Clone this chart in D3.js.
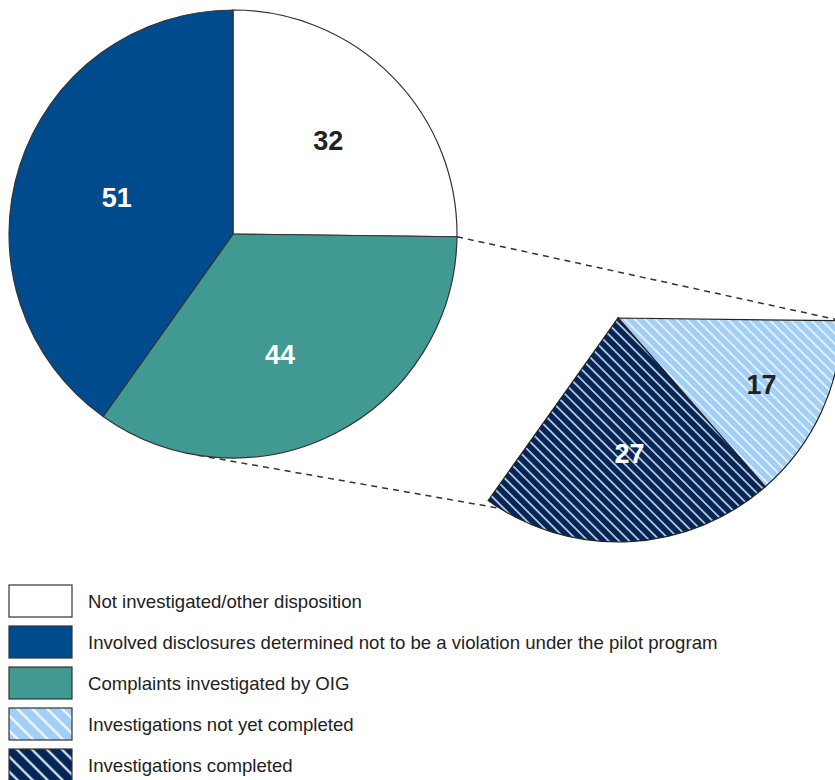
<!DOCTYPE html>
<html>
<head>
<meta charset="utf-8">
<script src="https://d3js.org/d3.v7.min.js"></script>
<style>
  body { margin: 0; background: #fff; }
  text { font-family: Arial, "Liberation Sans", sans-serif; }
</style>
</head>
<body>
<div id="chart"></div>
<script>
// Data
var mainLabels = ["Not investigated/other disposition", "Complaints investigated by OIG", "Involved disclosures determined not to be a violation under the pilot program"];
var mainValues = [32, 44, 51];
var subLabels = ["Investigations not yet completed", "Investigations completed"];
var subValues = [17, 27];
var legendLabels = [
  "Not investigated/other disposition",
  "Involved disclosures determined not to be a violation under the pilot program",
  "Complaints investigated by OIG",
  "Investigations not yet completed",
  "Investigations completed"
];

var W = 835, H = 780, R = 224;
var svg = d3.select("#chart").append("svg").attr("width", W).attr("height", H);

// hatch patterns
var defs = svg.append("defs");
function hatch(id, bg, gap, sw) {
  var p = defs.append("pattern").attr("id", id)
    .attr("patternUnits", "userSpaceOnUse")
    .attr("width", gap).attr("height", gap)
    .attr("patternTransform", "rotate(-45)");
  p.append("rect").attr("width", gap).attr("height", gap).attr("fill", bg);
  p.append("line").attr("x1", gap / 2).attr("x2", gap / 2).attr("y1", 0).attr("y2", gap)
    .attr("stroke", "#fff").attr("stroke-width", sw);
}
hatch("hLight", "#a3cff6", 7.3, 1.3);
hatch("hNavy", "#032659", 7.3, 1.3);
hatch("hLightL", "#a3cff6", 10.6, 2);
hatch("hNavyL", "#032659", 10.6, 2);

var mainFill = ["#ffffff", "#419a91", "#004b8e"];
var mainText = ["#222", "#fff", "#fff"];
var subFill = ["url(#hLight)", "url(#hNavy)"];
var subText = ["#222", "#fff"];

var pie = d3.pie().sort(null);
var arc = d3.arc().innerRadius(0).outerRadius(R);
var mainArcs = pie(mainValues);
var teal = mainArcs[1];
var subArcs = d3.pie().sort(null).startAngle(teal.startAngle).endAngle(teal.endAngle)(subValues);

var c1 = [233, 234], c2 = [618, 318];
var deg = Math.PI / 180;

function pt(c, a, r) { return [c[0] + r * Math.sin(a), c[1] - r * Math.cos(a)]; }

// connectors
var conn = [
  [pt(c1, teal.startAngle, R), pt(c2, teal.startAngle, R)],
  [pt(c1, 189 * deg, R), pt(c2, 211.8 * deg, R)]
];
svg.selectAll("line.conn").data(conn).enter().append("line")
  .attr("class", "conn")
  .attr("x1", d => d[0][0]).attr("y1", d => d[0][1])
  .attr("x2", d => d[1][0]).attr("y2", d => d[1][1])
  .attr("stroke", "#333").attr("stroke-width", 1.5)
  .attr("stroke-dasharray", "6,5");

function labelPos(d, r, da) {
  var a = (d.startAngle + d.endAngle) / 2 + da * deg;
  return "translate(" + [r * Math.sin(a), -r * Math.cos(a)] + ")";
}

// main pie
var g1 = svg.append("g").attr("transform", "translate(" + c1 + ")");
g1.selectAll("path").data(mainArcs).enter().append("path")
  .attr("d", arc)
  .attr("fill", (d, i) => mainFill[i])
  .attr("stroke", "#333").attr("stroke-width", 1.2);
var mainLabelR = [134, 129, 122], mainLabelDa = [0, 5.6, 0];
g1.selectAll("text").data(mainArcs).enter().append("text")
  .attr("transform", (d, i) => labelPos(d, mainLabelR[i], mainLabelDa[i]))
  .attr("text-anchor", "middle").attr("dy", "0.36em")
  .attr("font-size", 27).attr("font-weight", "bold")
  .attr("fill", (d, i) => mainText[i])
  .text(d => d.data);

// secondary sector
var g2 = svg.append("g").attr("transform", "translate(" + c2 + ")");
g2.selectAll("path").data(subArcs).enter().append("path")
  .attr("d", arc)
  .attr("fill", (d, i) => subFill[i])
  .attr("stroke", "#222").attr("stroke-width", 1.2);
var subLabelR = [158, 136], subLabelDa = [0, -2];
g2.selectAll("text").data(subArcs).enter().append("text")
  .attr("transform", (d, i) => labelPos(d, subLabelR[i], subLabelDa[i]))
  .attr("text-anchor", "middle").attr("dy", "0.36em")
  .attr("font-size", 27).attr("font-weight", "bold")
  .attr("fill", (d, i) => subText[i])
  .text(d => d.data);

// legend
var legFill = ["#ffffff", "#004b8e", "#419a91", "url(#hLightL)", "url(#hNavyL)"];
var leg = svg.selectAll("g.leg").data(legendLabels).enter().append("g")
  .attr("class", "leg")
  .attr("transform", (d, i) => "translate(9," + (585 + i * 41) + ")");
leg.append("rect").attr("width", 63).attr("height", 32)
  .attr("fill", (d, i) => legFill[i])
  .attr("stroke", "#333").attr("stroke-width", 1.2);
leg.append("text").attr("x", 79).attr("y", 16).attr("dy", "0.36em")
  .attr("font-size", 18.6).attr("fill", "#222")
  .text(d => d);
</script>
</body>
</html>
